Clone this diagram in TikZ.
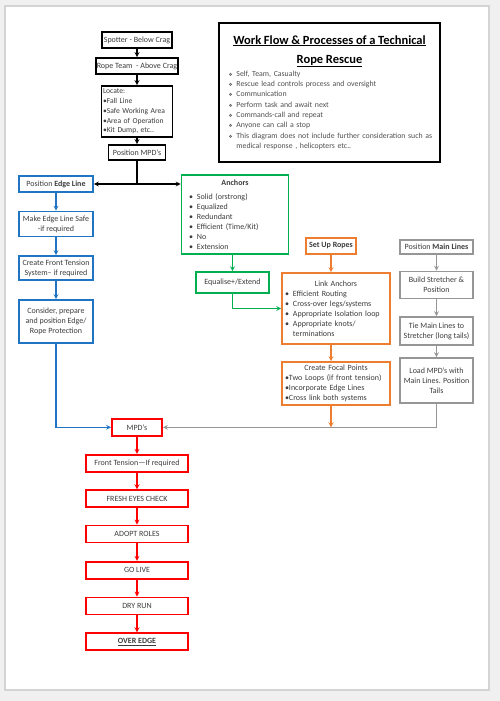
\documentclass[tikz,border=0pt]{standalone}
\usepackage{fontspec}
\setmainfont{Carlito}
\newfontfamily\symfont{DejaVu Sans}
\usetikzlibrary{positioning}

\definecolor{edgeblue}{RGB}{32,116,196}
\definecolor{anchorgreen}{RGB}{0,176,80}
\definecolor{ropeorange}{RGB}{237,125,49}
\definecolor{linegray}{RGB}{150,150,150}
\definecolor{checkred}{RGB}{255,0,0}
\definecolor{textgray}{RGB}{60,60,60}
\definecolor{notegray}{RGB}{80,80,80}
\definecolor{pagegray}{RGB}{240,240,240}
\definecolor{framegray}{RGB}{212,212,212}

\newcommand{\dbullet}{{\symfont\fontsize{4.5}{5}\selectfont ❖}\enspace}
\newcommand{\lbullet}{\textbullet\enspace}

\begin{document}
\begin{tikzpicture}[
    x = 1pt,
    y = -1pt,
    >=stealth,
    box/.style = {rectangle, fill=white, line width=1.6pt, inner sep=1pt,
              align=center, text=textgray, font=\fontsize{8}{10}\selectfont},
    blackbox/.style = {box, draw=black, line width=1.8pt},
    bluebox/.style = {box, draw=edgeblue, minimum width=74pt},
    greenbox/.style = {box, draw=anchorgreen},
    orangebox/.style = {box, draw=ropeorange},
    graybox/.style = {box, draw=linegray, minimum width=73pt},
    redbox/.style = {box, draw=checkred, line width=1.8pt, minimum width=102pt, minimum height=17pt},
    link/.style = {line width=1.2pt},
    ]

\useasboundingbox (0,0) rectangle (500,701);
\fill [pagegray] (0,0) rectangle (500,701);
\draw [framegray, line width=1.5pt, fill=white] (5,6) rectangle (489,690);

% black column
\node[blackbox, minimum width=70pt, minimum height=16pt] (spotter) at (137,40) {Spotter - Below Crag};
\node[blackbox, minimum width=81pt, minimum height=16pt] (rope_team) at (137,66) {Rope Team\ \ - Above Crag};
\node[blackbox, minimum width=71pt, minimum height=51pt, text width=68pt, align=left,
      font=\fontsize{7.6}{9.8}\selectfont] (locate) at (137,111.5)
    {Locate:\\\textbullet Fall Line\\\textbullet Safe Working Area\\\textbullet Area of Operation\\\textbullet Kit Dump, etc..};
\node[blackbox, minimum width=57pt, minimum height=15pt] (pos_mpd) at (137,152.5) {Position MPD’s};

\node[blackbox, minimum width=221pt, minimum height=139pt, text width=214pt, inner xsep=3.5pt, align=left] (title_box) at (329.5,92.5)
    {{\centering\color{black}\fontsize{12.5}{19}\selectfont\bfseries
      \underline{Work Flow \& Processes of a Technical}\\\underline{Rope Rescue}\par}
     \vspace{3pt}
     {\color{notegray}\fontsize{7.8}{10.3}\selectfont
      \hspace*{6pt}\dbullet Self, Team, Casualty\\
      \hspace*{6pt}\dbullet Rescue lead controls process and oversight\\
      \hspace*{6pt}\dbullet Communication\\
      \hspace*{6pt}\dbullet Perform task and await next\\
      \hspace*{6pt}\dbullet Commands-call and repeat\\
      \hspace*{6pt}\dbullet Anyone can call a stop\\
      \hspace*{6pt}\dbullet This diagram does not include further consideration such as\\
      \hspace*{6pt}\phantom{\dbullet}medical response , helicopters etc..\par}};

% blue column
\node[bluebox, minimum height=16pt] (edge_line) at (56,184) {Position \textbf{Edge Line}};
\node[bluebox, minimum height=25pt] (edge_safe) at (56,224) {Make Edge Line Safe\\-if required};
\node[bluebox, minimum height=24pt] (front_sys) at (56,268) {Create Front Tension\\System– if required};
\node[bluebox, minimum height=43pt] (edge_prot) at (56,321.5) {Consider, prepare\\and position Edge/\\Rope Protection};

% green
\node[greenbox, minimum width=107pt, minimum height=79pt, text width=98pt, align=left] (anchors) at (235,214.5)
    {\makebox[98pt]{\textbf{Anchors}}\\[4pt]
     \hspace*{3pt}\lbullet Solid (orstrong)\\
     \hspace*{3pt}\lbullet Equalized\\
     \hspace*{3pt}\lbullet Redundant\\
     \hspace*{3pt}\lbullet Efficient (Time/Kit)\\
     \hspace*{3pt}\lbullet No\\
     \hspace*{3pt}\lbullet Extension};
\node[greenbox, minimum width=73pt, minimum height=21pt] (equalise) at (232.5,282.5) {Equalise+/Extend};

% orange
\node[orangebox, minimum width=50pt, minimum height=16pt] (set_up) at (331,246) {\textbf{Set Up Ropes}};
\node[orangebox, minimum width=108pt, minimum height=71pt, text width=102pt, align=left] (link_anch) at (336,308.5)
    {\makebox[102pt]{Link Anchors}\\
     \lbullet Efficient Routing\\
     \lbullet Cross-over legs/systems\\
     \lbullet Appropriate Isolation loop\\
     \lbullet Appropriate knots/\\
     \phantom{\lbullet}terminations};
\node[orangebox, minimum width=108pt, minimum height=43pt, text width=102pt, align=left] (focal) at (336,383.5)
    {\makebox[102pt]{Create Focal Points}\\
     \textbullet Two Loops (if front tension)\\
     \textbullet Incorporate Edge Lines\\
     \textbullet Cross link both systems};

% gray
\node[graybox, minimum height=14pt] (main_lines) at (436.5,247) {Position \textbf{Main Lines}};
\node[graybox, minimum height=27pt] (stretcher) at (436.5,285) {Build Stretcher \&\\Position};
\node[graybox, minimum height=28pt] (tie_lines) at (436.5,331) {Tie Main Lines to\\Stretcher (long tails)};
\node[graybox, minimum height=45pt] (load_mpd) at (436.5,380.5) {Load MPD’s with\\Main Lines. Position\\Tails};

% red column
\node[redbox, minimum width=50pt] (mpd) at (137,427.3) {MPD’s};
\node[redbox] (front_tens) at (137,463.3) {Front Tension—If required};
\node[redbox] (fresh_eyes) at (137,498.7) {FRESH EYES CHECK};
\node[redbox] (adopt_roles) at (137,534) {ADOPT ROLES};
\node[redbox] (go_live) at (137,570.3) {GO LIVE};
\node[redbox] (dry_run) at (137,606) {DRY RUN};
\node[redbox] (over_edge) at (137,641.7) {\textbf{\underline{OVER EDGE}}};

\draw [->, link] (spotter) -- (rope_team);
\draw [->, link] (rope_team) -- (locate);
\draw [->, link] (locate) -- (pos_mpd);
\coordinate (split) at (pos_mpd.south |- edge_line.east);
\draw [link] (pos_mpd) -- (split);
\draw [->, link] (split) -- (edge_line.east);
\draw [->, link] (split) -- (split -| anchors.west);

\draw [->, link, edgeblue] (edge_line) -- (edge_safe);
\draw [->, link, edgeblue] (edge_safe) -- (front_sys);
\draw [->, link, edgeblue] (front_sys) -- (edge_prot);
\draw [->, link, edgeblue] (edge_prot.south) |- (mpd.west);

\draw [->, link, anchorgreen] (anchors.south -| equalise.north) -- (equalise.north);
\draw [->, link, anchorgreen] (equalise.south) |- (link_anch.west);

\draw [->, link, linegray] (main_lines) -- (stretcher);
\draw [->, link, linegray] (stretcher) -- (tie_lines);
\draw [->, link, linegray] (tie_lines) -- (load_mpd);
\draw [->, link, linegray] (load_mpd.south) |- (mpd.east);

\draw [->, link, ropeorange] (set_up.south) -- (set_up.south |- link_anch.north);
\draw [->, link, ropeorange] (link_anch.south -| set_up.south) -- (focal.north -| set_up.south);
\draw [->, link, ropeorange] (focal.south -| set_up.south) -- (set_up.south |- mpd.east);

\draw [->, link, checkred] (mpd) -- (front_tens);
\draw [->, link, checkred] (front_tens) -- (fresh_eyes);
\draw [->, link, checkred] (fresh_eyes) -- (adopt_roles);
\draw [->, link, checkred] (adopt_roles) -- (go_live);
\draw [->, link, checkred] (go_live) -- (dry_run);
\draw [->, link, checkred] (dry_run) -- (over_edge);

\end{tikzpicture}
\end{document}
